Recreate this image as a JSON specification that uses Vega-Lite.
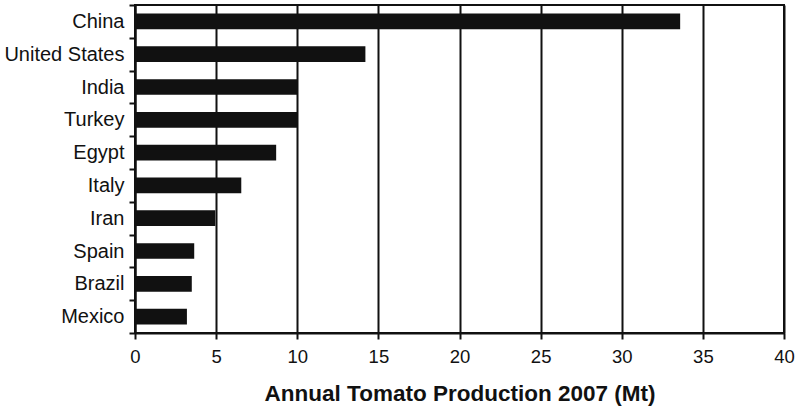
{
  "$schema": "https://vega.github.io/schema/vega-lite/v6.json",
  "autosize": "none",
  "padding": {"left": 135, "top": 5, "right": 16, "bottom": 78},
  "width": 649,
  "height": 328,
  "background": "white",
  "config": {
    "view": {"stroke": "#111", "strokeWidth": 2},
    "font": "Liberation Sans"
  },
  "data": {
    "values": [
      {"country": "China", "production": 33.6},
      {"country": "United States", "production": 14.2},
      {"country": "India", "production": 10.0},
      {"country": "Turkey", "production": 10.0},
      {"country": "Egypt", "production": 8.7},
      {"country": "Italy", "production": 6.55},
      {"country": "Iran", "production": 4.95},
      {"country": "Spain", "production": 3.65},
      {"country": "Brazil", "production": 3.5},
      {"country": "Mexico", "production": 3.2}
    ]
  },
  "mark": {"type": "bar", "color": "#111", "height": {"band": 0.48}},
  "encoding": {
    "y": {
      "field": "country",
      "type": "nominal",
      "sort": null,
      "scale": {"paddingInner": 0, "paddingOuter": 0},
      "axis": {
        "title": null,
        "tickBand": "extent",
        "domainColor": "#111",
        "domainWidth": 2,
        "tickColor": "#111",
        "tickWidth": 2,
        "tickSize": 6,
        "labelFontSize": 20,
        "labelColor": "#111",
        "labelPadding": 5,
        "grid": false
      }
    },
    "x": {
      "field": "production",
      "type": "quantitative",
      "scale": {"domain": [0, 40], "nice": false},
      "axis": {
        "title": "Annual Tomato Production 2007 (Mt)",
        "titleFontSize": 22.5,
        "titleFontWeight": "bold",
        "titleColor": "#111",
        "titlePadding": 17,
        "values": [0, 5, 10, 15, 20, 25, 30, 35, 40],
        "labelFlush": false,
        "grid": true,
        "gridColor": "#111",
        "gridWidth": 2,
        "gridOpacity": 1,
        "domainColor": "#111",
        "domainWidth": 2,
        "tickColor": "#111",
        "tickWidth": 2,
        "tickSize": 6,
        "labelFontSize": 18.5,
        "labelColor": "#111",
        "labelPadding": 8
      }
    }
  }
}
